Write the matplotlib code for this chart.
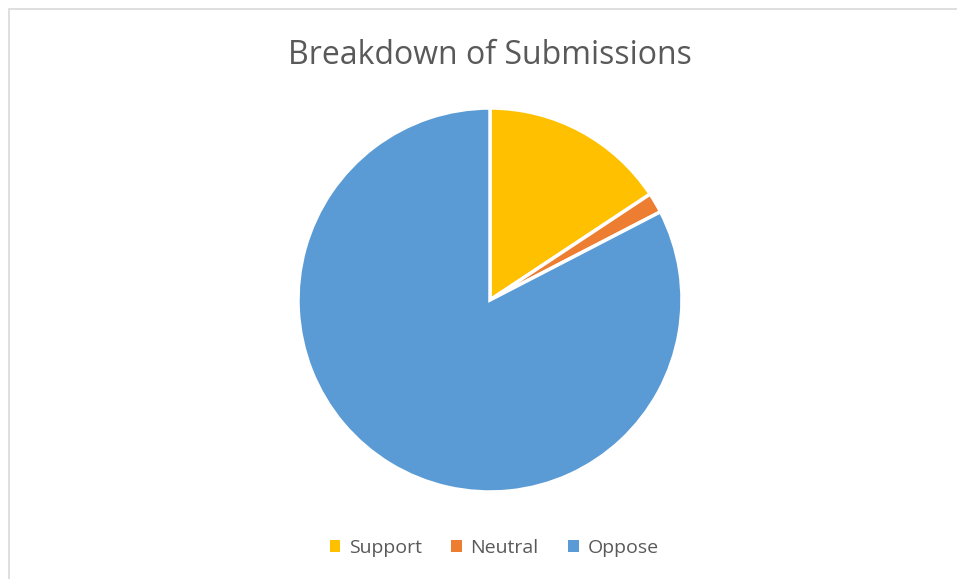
import matplotlib
matplotlib.use("Agg")
import matplotlib.pyplot as plt
from matplotlib.patches import Rectangle

categories = ["Support", "Neutral", "Oppose"]
values = [15.7, 1.7, 82.6]
colors = ["#FFC000", "#ED7D31", "#5B9BD5"]

W, H = 957, 579
fig = plt.figure(figsize=(W/100, H/100), dpi=100)
fig.patch.set_facecolor("white")

# chart border (light gray), only left and top edges visible
fig.patches.append(Rectangle((9/W, -0.1), 2, 1.1 - 9/H,
                             transform=fig.transFigure, fill=False,
                             edgecolor="#D9D9D9", linewidth=1.2))

r = 192
cx, cy = 490, 300
ax = fig.add_axes([(cx - r)/W, (H - cy - r)/H, 2*r/W, 2*r/H])
wedges, _ = ax.pie(values, colors=colors, startangle=90, counterclock=False,
                   wedgeprops=dict(edgecolor="white", linewidth=2.5))
ax.set_aspect("equal")
ax.set_xlim(-1, 1)
ax.set_ylim(-1, 1)

fig.text(cx/W, 1 - 55/H, "Breakdown of Submissions", ha="center", va="center",
         fontsize=23, color="#595959", family="Open Sans")

leg = fig.legend(wedges, categories, loc="center", bbox_to_anchor=(494/W, 1 - 548/H),
                 ncol=3, frameon=False, handlelength=0.55, handleheight=0.55,
                 handletextpad=0.45, columnspacing=1.5,
                 prop=dict(family="Open Sans", size=14))
for t in leg.get_texts():
    t.set_color("#595959")
for h in leg.legend_handles:
    h.set_edgecolor("none")

fig.savefig("out.png", dpi=100)
